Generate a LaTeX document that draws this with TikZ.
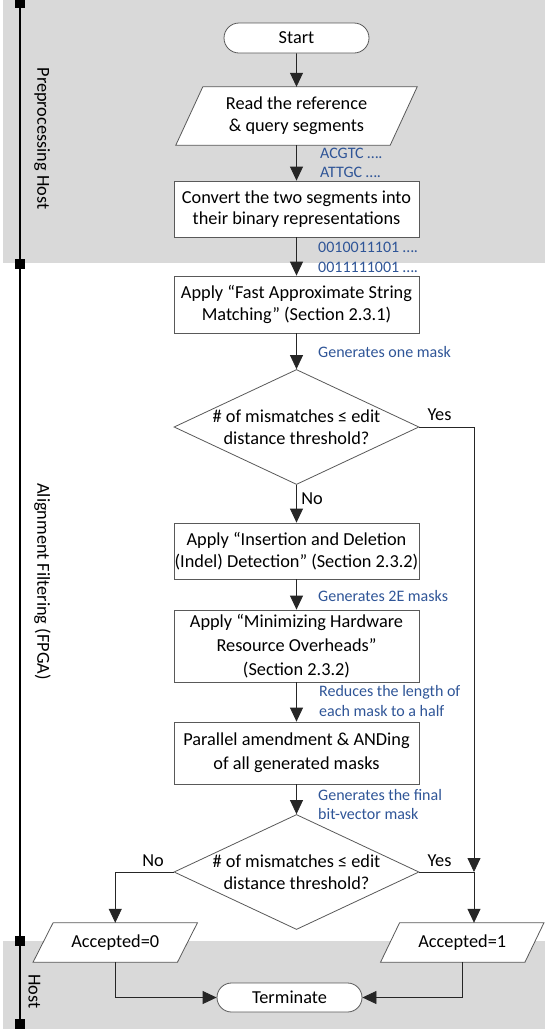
\documentclass[tikz,border=0pt]{standalone}
\usepackage{fontspec}
\setmainfont{Carlito}
\usetikzlibrary{arrows.meta,shapes.misc,shapes.geometric,calc,backgrounds}
\definecolor{lblue}{RGB}{47,85,151}
\definecolor{lanegray}{RGB}{217,217,217}
\definecolor{boxline}{RGB}{89,89,89}
\begin{document}
\begin{tikzpicture}[x=1pt,y=-1pt,
  mainfont/.style={font=\fontsize{18.3}{21.7}\selectfont},
  box/.style={draw=boxline, fill=white, line width=0.8pt, minimum width=245pt, align=center, inner sep=0pt, mainfont},
  pill/.style={rounded rectangle, draw=boxline, fill=white, line width=0.8pt, minimum width=145pt, minimum height=30pt, inner sep=0pt, mainfont},
  dia/.style={diamond, draw=boxline, fill=white, line width=0.8pt, minimum width=245pt, minimum height=115pt, inner sep=0pt},
  ptext/.style={inner sep=0pt, align=center, mainfont},
  para/.style={draw=boxline, fill=white, line width=0.8pt},
  conn/.style={draw=black!85, line width=0.8pt},
  arr/.style={conn, -{Triangle[width=13pt,length=14pt]}},
  note/.style={text=lblue, anchor=west, inner sep=0pt, align=left, font=\fontsize{16}{19.5}\selectfont},
  yn/.style={inner sep=0pt, mainfont},
  lane/.style={rotate=-90, anchor=base, inner sep=0pt, mainfont},
  lanesq/.style={fill=black}
]
\useasboundingbox (0,0) rectangle (545,1029);

% lanes
\begin{scope}[on background layer]
  \fill[lanegray] (3,0) rectangle (545,263);
  \fill[lanegray] (3,941) rectangle (545,1029);
\end{scope}
\draw[line width=2pt] (20,0) -- (20,1029);
\fill[lanesq] (15,-2) rectangle (25,8);
\fill[lanesq] (15,259) rectangle (25,269);
\fill[lanesq] (15,936) rectangle (25,946);
\fill[lanesq] (15,1019) rectangle (25,1029);

\node[lane] (l1) at (37.5,138.5) {Preprocessing Host};
\node[lane] (l2) at (37.5,581.5) {Alignment Filtering (FPGA)};
\node[lane] (l3) at (28.5,991.5) {Host};

% nodes
\node[pill] (start) at (296.5,38) {Start};
\node[ptext, minimum width=214pt, minimum height=58pt] (read) at (296.5,116) {Read the reference\\\& query segments};
\node[box, minimum height=56pt] (conv) at (296.5,209) {Convert the two segments into\\their binary representations};
\node[box, minimum height=57pt] (fast) at (296.5,304.5) {Apply “Fast Approximate String\\Matching” (Section 2.3.1)};
\node[dia] (d1) at (296.5,427) {};
\node[ptext] (d1t) at (296.5,427.5) {\# of mismatches ≤ edit\\distance threshold?};
\node[box, minimum height=56pt] (indel) at (296.5,551) {Apply “Insertion and Deletion\\(Indel) Detection” (Section 2.3.2)};
\node[box, minimum height=72pt, font=\fontsize{18.3}{24.3}\selectfont] (mini) at (296.5,646) {Apply “Minimizing Hardware\\Resource Overheads”\\(Section 2.3.2)};
\node[box, minimum height=62pt, font=\fontsize{18.3}{24.3}\selectfont] (par) at (296.5,753) {Parallel amendment \& ANDing\\of all generated masks};
\node[dia] (d2) at (296.5,872) {};
\node[ptext] (d2t) at (296.5,872.5) {\# of mismatches ≤ edit\\distance threshold?};
\node[ptext, minimum width=144pt, minimum height=39pt] (acc0) at (115.25,942.5) {Accepted=0};
\node[ptext, minimum width=144pt, minimum height=39pt] (acc1) at (462.25,942.5) {Accepted=1};
\node[pill, minimum height=29pt] (term) at (289.5,997.5) {Terminate};

% parallelograms
\begin{scope}[on background layer]
  \path[para] ($(read.north west)+(13.5,0)$) -- ($(read.north east)+(13.5,0)$) -- ($(read.south east)+(-13.5,0)$) -- ($(read.south west)+(-13.5,0)$) -- cycle;
  \path[para] ($(acc0.north west)+(10,0)$) -- ($(acc0.north east)+(10,0)$) -- ($(acc0.south east)+(-10,0)$) -- ($(acc0.south west)+(-10,0)$) -- cycle;
  \path[para] ($(acc1.north west)+(9.5,0)$) -- ($(acc1.north east)+(9.5,0)$) -- ($(acc1.south east)+(-9.5,0)$) -- ($(acc1.south west)+(-9.5,0)$) -- cycle;
\end{scope}

% labels
\node[yn] (yes1) at (439.5,415) {Yes};
\node[yn] (no1) at (312,499) {No};
\node[yn] (no2) at (153,861) {No};
\node[yn] (yes2) at (439.5,861) {Yes};

\node[note] (n1) at (320,163) {ACGTC ….\\ATTGC ….};
\node[note] (n2) at (318,257.5) {0010011101 ….\\0011111001 ….};
\node[note] (n3) at (318,352) {Generates one mask};
\node[note] (n4) at (318,596) {Generates 2E masks};
\node[note] (n5) at (319,701) {Reduces the length of\\each mask to a half};
\node[note] (n6) at (318,804.5) {Generates the final\\bit-vector mask};

% connectors
\coordinate (j) at (474,872);
\draw[arr] (start) -- (read);
\draw[arr] (read) -- (conv);
\draw[arr] (conv) -- (fast);
\draw[arr] (fast) -- (d1);
\draw[arr] (d1) -- (indel);
\draw[arr] (indel) -- (mini);
\draw[arr] (mini) -- (par);
\draw[arr] (par) -- (d2);
\draw[arr] (d1.east) -| (j);
\draw[conn] (d2.east) -- (j);
\draw[arr] (j) -- (j |- acc1.north);
\draw[arr] (d2.west) -| (acc0.north);
\draw[arr] (acc0.south) |- (term.west);
\draw[arr] (acc1.south) |- (term.east);
\end{tikzpicture}
\end{document}
